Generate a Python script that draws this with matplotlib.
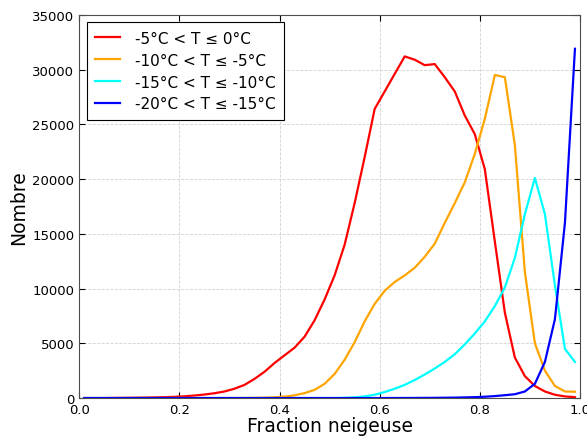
import numpy as np
import matplotlib
matplotlib.use('Agg')
import matplotlib.pyplot as plt

# centres des classes de fraction neigeuse
fraction = np.arange(0.01, 1.0, 0.02)

# -5 < T <= 0
n_t0 = [0, 0, 0, 10, 20, 30, 40, 60, 80, 110,
        160, 230, 320, 440, 600, 850, 1200, 1750, 2400, 3200,
        3900, 4600, 5600, 7100, 9000, 11200, 14000, 17800, 22000, 26400,
        28000, 29600, 31200, 30900, 30400, 30500, 29300, 28000, 25800, 24100,
        20900, 14300, 7800, 3700, 2000, 1100, 600, 300, 150, 80]
# -10 < T <= -5
n_t5 = [0, 0, 0, 0, 0, 0, 0, 0, 0, 0,
        0, 0, 0, 0, 0, 5, 10, 20, 40, 70,
        130, 250, 450, 750, 1300, 2200, 3500, 5100, 7000, 8600,
        9800, 10600, 11200, 11900, 12900, 14100, 16000, 17800, 19700, 22300,
        25500, 29500, 29300, 23100, 11500, 5000, 2500, 1100, 600, 580]
# -15 < T <= -10
n_t10 = [0, 0, 0, 0, 0, 0, 0, 0, 0, 0,
         0, 0, 0, 0, 0, 0, 0, 0, 0, 0,
         0, 0, 0, 0, 0, 0, 20, 60, 150, 300,
         550, 850, 1200, 1650, 2150, 2700, 3300, 4000, 4900, 5900,
         7000, 8400, 10100, 12800, 16800, 20100, 16800, 10300, 4500, 3300]
# -20 < T <= -15
n_t15 = [0, 0, 0, 0, 0, 0, 0, 0, 0, 0,
         0, 0, 0, 0, 0, 0, 0, 0, 0, 0,
         0, 0, 0, 0, 0, 0, 0, 0, 0, 0,
         0, 5, 8, 10, 15, 20, 30, 40, 60, 80,
         120, 180, 260, 350, 600, 1300, 3300, 7200, 16000, 31900]

labels = ['-5°C < T ≤ 0°C', '-10°C < T ≤ -5°C',
          '-15°C < T ≤ -10°C', '-20°C < T ≤ -15°C']
colors = ['red', 'orange', 'cyan', 'blue']

fig = plt.figure(figsize=(5.87, 4.39), dpi=100)
ax = fig.add_axes([0.135, 0.091, 0.853, 0.873])

for n, lab, c in zip([n_t0, n_t5, n_t10, n_t15], labels, colors):
    ax.plot(fraction, n, color=c, lw=1.6, label=lab)

ax.set_xlim(0, 1)
ax.set_ylim(0, 35000)
ax.set_xticks(np.arange(0, 1.01, 0.2))
ax.set_yticks(np.arange(0, 35001, 5000))
ax.tick_params(direction='in', top=True, right=True, labelsize=9.5, length=4)
ax.grid(True, color='0.82', ls='--', lw=0.6)
ax.set_xlabel('Fraction neigeuse', fontsize=13.5, labelpad=0)
ax.set_ylabel('Nombre', fontsize=13.5, labelpad=3)
for s in ax.spines.values():
    s.set_color('0.3')

leg = ax.legend(loc='upper left', fontsize=11, fancybox=False, framealpha=1,
                edgecolor='black', handlelength=1.6, handletextpad=1.0,
                borderpad=0.55, labelspacing=0.45)
leg.get_frame().set_linewidth(0.8)

fig.savefig('out.png', dpi=100)
